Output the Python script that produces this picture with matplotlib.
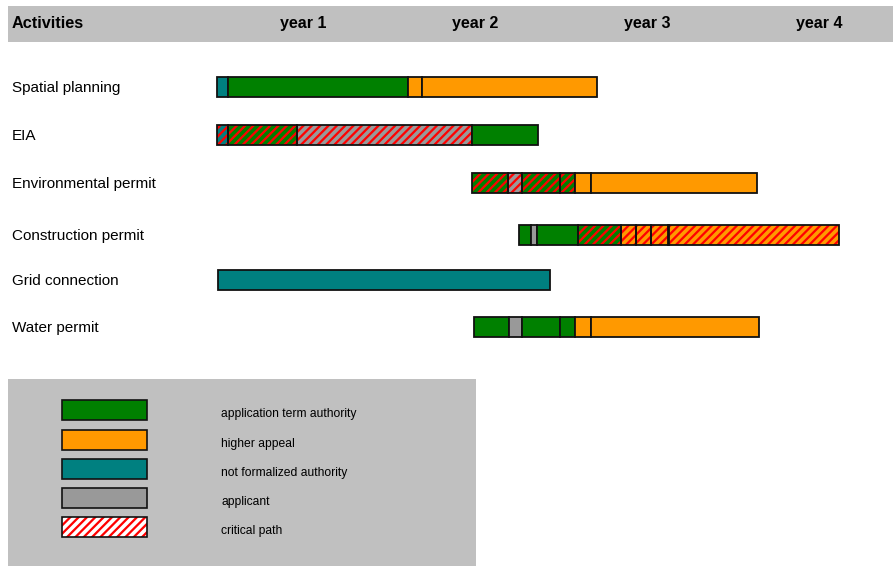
import matplotlib
matplotlib.use("Agg")
import matplotlib.pyplot as plt
from matplotlib.patches import Rectangle

plt.rcParams["font.family"] = ["Liberation Sans", "DejaVu Sans"]
plt.rcParams["hatch.linewidth"] = 2.6

W, H = 893, 566

# ---- data (time axis in months from project start) ----
activities = ["Spatial planning", "EIA", "Environmental permit",
              "Construction permit", "Grid connection", "Water permit"]
year_labels = ["year 1", "year 2", "year 3", "year 4"]

# phase boundaries per activity and the kind of each phase
spatial_bounds = [0.0, 0.8, 13.3, 14.3, 26.5]
spatial_kinds = ["T", "G", "O", "O"]
eia_bounds = [0.0, 0.8, 5.6, 17.8, 22.4]
eia_kinds = ["cT", "cG", "cA", "G"]
env_bounds = [17.8, 20.3, 21.3, 23.9, 25.0, 26.1, 37.7]
env_kinds = ["cG", "cA", "cG", "cG", "O", "O"]
constr_bounds = [21.1, 21.9, 22.3, 25.2, 28.2, 29.2, 30.3, 31.5, 43.4]
constr_kinds = ["G", "A", "G", "cG", "cO", "cO", "cO", "cO"]
grid_bounds = [0.1, 23.2]
grid_kinds = ["T"]
water_bounds = [17.9, 20.4, 21.3, 23.9, 25.0, 26.1, 37.8]
water_kinds = ["G", "A", "G", "G", "O", "O"]

legend_labels = ["application term authority", "higher appeal",
                 "not formalized authority", "applicant", "critical path"]

colors = {"G": "#008000", "O": "#FF9900", "T": "#008080", "A": "#999999"}
RED = "#FF0000"
HATCH = "////"

# ---- layout ----
fig = plt.figure(figsize=(W / 100, H / 100), dpi=100)
x_origin_px = 217.0
px_per_month = 172.0 / 12.0


def fx(px):
    return px / W


def fy(py):
    return 1 - py / H


# grey background panels sit behind everything
fig.patches.append(Rectangle((fx(8), fy(42)), fx(893) - fx(8), fy(6) - fy(42),
                             transform=fig.transFigure, facecolor="#C0C0C0",
                             edgecolor="none", zorder=-2))
fig.patches.append(Rectangle((fx(8), fy(566)), fx(476) - fx(8), fy(379) - fy(566),
                             transform=fig.transFigure, facecolor="#C0C0C0",
                             edgecolor="none", zorder=-2))

ax = fig.add_axes([0, 0, 1, 1])
ax.set_xlim(-x_origin_px / px_per_month, (W - x_origin_px) / px_per_month)
ax.set_ylim(H, 0)
ax.axis("off")

# header (shared baseline)
header_base = 28
fig.text(fx(12), fy(header_base), "Activities", fontsize=11.7, fontweight="bold",
         va="baseline", ha="left")
for i, lab in enumerate(year_labels):
    xm = 12 * i + 6
    ax.text(xm, header_base, lab, fontsize=11.5, fontweight="bold",
            va="baseline", ha="center")

row_y = [87, 135, 183, 235, 280, 327]
bar_h = 20
all_bounds = [spatial_bounds, eia_bounds, env_bounds, constr_bounds, grid_bounds, water_bounds]
all_kinds = [spatial_kinds, eia_kinds, env_kinds, constr_kinds, grid_kinds, water_kinds]


def draw_segment(y, start, end, kind):
    width = end - start
    if kind.startswith("c"):
        stripe = colors[kind[1]]
        ax.barh(y, width, left=start, height=bar_h, color=RED,
                edgecolor=stripe, hatch=HATCH, linewidth=0, zorder=2)
        ax.barh(y, width, left=start, height=bar_h, fill=False,
                edgecolor="#111111", linewidth=1.3, zorder=3)
    else:
        ax.barh(y, width, left=start, height=bar_h, color=colors[kind],
                edgecolor="#111111", linewidth=1.3, zorder=3)


for name, y, bounds, kinds in zip(activities, row_y, all_bounds, all_kinds):
    fig.text(fx(12), fy(y + 1), name, fontsize=11, va="center", ha="left")
    for k, kind in enumerate(kinds):
        draw_segment(y, bounds[k], bounds[k + 1], kind)

# legend
leg_y = [410, 439.5, 469, 498, 527]
leg_style = [("#008000", None), ("#FF9900", None), ("#008080", None),
             ("#999999", None), (RED, "white")]
for (fc, hc), lab, yy in zip(leg_style, legend_labels, leg_y):
    x0, x1 = fx(62), fx(147)
    y0, y1 = fy(yy + 10), fy(yy - 10)
    if hc is None:
        fig.patches.append(Rectangle((x0, y0), x1 - x0, y1 - y0, transform=fig.transFigure,
                                     facecolor=fc, edgecolor="#111111", linewidth=1.2, zorder=2))
    else:
        fig.patches.append(Rectangle((x0, y0), x1 - x0, y1 - y0, transform=fig.transFigure,
                                     facecolor=fc, edgecolor=hc, hatch=HATCH, linewidth=0, zorder=2))
        fig.patches.append(Rectangle((x0, y0), x1 - x0, y1 - y0, transform=fig.transFigure,
                                     fill=False, edgecolor="#111111", linewidth=1.2, zorder=3))
    fig.text(fx(221), fy(yy + 4), lab, fontsize=8.7, va="center", ha="left")

fig.savefig("out.png", dpi=100)
